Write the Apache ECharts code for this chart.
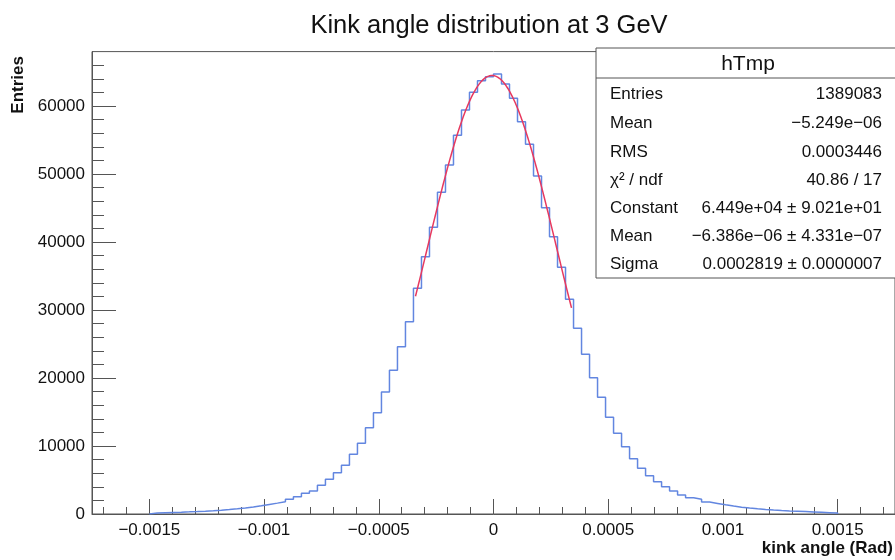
<!DOCTYPE html>
<html>
<head>
<meta charset="utf-8">
<title>Kink angle distribution at 3 GeV</title>
<script src="https://cdn.jsdelivr.net/npm/echarts@6/dist/echarts.min.js"></script>
<style>
html, body { margin: 0; padding: 0; background: #fff; }
#main { width: 895px; height: 560px; }
</style>
</head>
<body>
<div id="main"></div>
<script>
// histogram hTmp : 86 bins from -0.0015 to 0.0015
var histLow = -0.0015;
var histHigh = 0.0015;
var counts = [
	130, 190, 230, 270, 315, 365, 420, 485, 560, 650,
	760, 880, 1020, 1200, 1400, 1600, 1810, 2160, 2550, 3040,
	3380, 4220, 5100, 6080, 7160, 8770, 10390, 12700, 14900, 17940,
	21130, 24610, 28280, 33190, 37840, 42160, 47300, 51320, 55690, 59410,
	62010, 63720, 64310, 64710, 63240, 61130, 57690, 54370, 49710, 45040,
	40780, 36280, 31570, 27310, 23480, 20050, 17160, 14220, 11860, 9900,
	8130, 6720, 5640, 4760, 4020, 3380, 2790, 2400, 2160, 1760,
	1560, 1350, 1160, 1000, 870, 760, 660, 580, 510, 450,
	400, 350, 300, 250, 200, 150
];

// gaus fit
var fitConst = 6.449e4;
var fitMean = -6.386e-6;
var fitSigma = 0.0002819;
var fitRange = [-0.00034, 0.00034];

// axes
var xRange = [-0.00175, 0.00175];
var yRange = [0, 68000];
var xTicks = [-0.0015, -0.001, -0.0005, 0, 0.0005, 0.001, 0.0015];
var yTicks = [0, 10000, 20000, 30000, 40000, 50000, 60000];

// stats box
var statsTitle = 'hTmp';
var statsLabels = ['Entries', 'Mean', 'RMS', 'χ² / ndf', 'Constant', 'Mean', 'Sigma'];
var statsValues = ['1389083', '\u22125.249e\u221206', '0.0003446', '40.86 / 17',
	'6.449e+04 \u00b1 9.021e+01', '\u22126.386e\u221206 \u00b1 4.331e\u221207', '0.0002819 \u00b1 0.0000007'];

var FONT = '"Liberation Sans", Arial, Helvetica, sans-serif';

function histOutline() {
	var w = (histHigh - histLow) / counts.length;
	var pts = [[histLow, 0]];
	for (var i = 0; i < counts.length; i++) {
		pts.push([histLow + i * w, counts[i]]);
		pts.push([histLow + (i + 1) * w, counts[i]]);
	}
	pts.push([histHigh, 0]);
	return pts;
}

function fitCurve() {
	var pts = [];
	var n = 150;
	for (var i = 0; i <= n; i++) {
		var x = fitRange[0] + (fitRange[1] - fitRange[0]) * i / n;
		var t = (x - fitMean) / fitSigma;
		pts.push([x, fitConst * Math.exp(-0.5 * t * t)]);
	}
	return pts;
}

function minorTicks(step, from, to, every) {
	var out = [];
	for (var k = from; k <= to; k++) {
		if (k % every !== 0) out.push(k * step);
	}
	return out;
}

function statsGraphics() {
	var g = [];
	g.push({ type: 'rect', z: 100, shape: { x: 596, y: 48, width: 320, height: 230 },
		style: { fill: '#fff', stroke: '#555', lineWidth: 1 } });
	g.push({ type: 'line', z: 101, shape: { x1: 596, y1: 78, x2: 900, y2: 78 },
		style: { stroke: '#555', lineWidth: 1 } });
	g.push({ type: 'text', z: 101, x: 748, y: 64,
		style: { text: statsTitle, font: '21px ' + FONT, fill: '#111', align: 'center', verticalAlign: 'middle' } });
	var rowY = [94, 123, 152, 180, 208, 236, 264];
	for (var i = 0; i < statsLabels.length; i++) {
		g.push({ type: 'text', z: 101, x: 610, y: rowY[i],
			style: { text: statsLabels[i], font: '17px ' + FONT, fill: '#111', align: 'left', verticalAlign: 'middle' } });
		g.push({ type: 'text', z: 101, x: 882, y: rowY[i],
			style: { text: statsValues[i], font: '17px ' + FONT, fill: '#111', align: 'right', verticalAlign: 'middle' } });
	}
	// axis titles
	g.push({ type: 'text', z: 101, x: 18, y: 56, rotation: Math.PI / 2,
		style: { text: 'Entries', font: 'bold 17px ' + FONT, fill: '#111', align: 'right', verticalAlign: 'middle' } });
	g.push({ type: 'text', z: 101, x: 893, y: 548,
		style: { text: 'kink angle (Rad)', font: 'bold 17px ' + FONT, fill: '#111', align: 'right', verticalAlign: 'middle' } });
	return g;
}

function genOption() {
	var axisColor = '#555';
	var option = {
		backgroundColor: '#fff',
		animation: false,
		title: {
			text: 'Kink angle distribution at 3 GeV',
			left: 484,
			top: 8,
			textAlign: 'center',
			textStyle: { fontFamily: FONT, fontSize: 25.5, fontWeight: 'normal', color: '#111' }
		},
		grid: {
			left: 92, right: -4, top: 51.6, bottom: 46,
			show: true, borderColor: axisColor, borderWidth: 1, backgroundColor: 'transparent'
		},
		xAxis: [ {
			type: 'value', min: xRange[0], max: xRange[1], position: 'bottom',
			splitLine: { show: false },
			axisLine: { show: true, onZero: false, lineStyle: { color: axisColor } },
			axisTick: { show: true, inside: true, length: 15, customValues: xTicks, lineStyle: { color: axisColor } },
			axisLabel: {
				show: true, customValues: xTicks, margin: 8,
				fontFamily: FONT, fontSize: 17, color: '#111',
				formatter: function (v) { return String(v).replace('-', '\u2212'); }
			}
		}, {
			type: 'value', min: xRange[0], max: xRange[1], position: 'bottom',
			splitLine: { show: false },
			axisLine: { show: false, onZero: false },
			axisTick: { show: true, inside: true, length: 7, customValues: minorTicks(0.0001, -17, 17, 5), lineStyle: { color: axisColor } },
			axisLabel: { show: false }
		} ],
		yAxis: [ {
			type: 'value', min: yRange[0], max: yRange[1], position: 'left',
			splitLine: { show: false },
			axisLine: { show: true, onZero: false, lineStyle: { color: axisColor } },
			axisTick: { show: true, inside: true, length: 24, customValues: yTicks, lineStyle: { color: axisColor } },
			axisLabel: {
				show: true, customValues: yTicks, margin: 7,
				fontFamily: FONT, fontSize: 17, color: '#111',
				formatter: function (v) { return String(v); }
			}
		}, {
			type: 'value', min: yRange[0], max: yRange[1], position: 'left',
			splitLine: { show: false },
			axisLine: { show: false, onZero: false },
			axisTick: { show: true, inside: true, length: 12, customValues: minorTicks(2000, 1, 33, 5), lineStyle: { color: axisColor } },
			axisLabel: { show: false }
		} ],
		series: [ {
			name: 'hTmp',
			type: 'line',
			xAxisIndex: 0, yAxisIndex: 0,
			data: histOutline(),
			showSymbol: false,
			lineStyle: { color: '#6286e0', width: 1.5 },
			z: 3
		}, {
			name: 'gaus',
			type: 'line',
			xAxisIndex: 0, yAxisIndex: 0,
			data: fitCurve(),
			showSymbol: false,
			lineStyle: { color: '#e8395e', width: 1.5 },
			z: 4
		} ],
		graphic: statsGraphics()
	};
	return option;
}

var chart = echarts.init(document.getElementById('main'));
chart.setOption(genOption(), true);
</script>
</body>
</html>
